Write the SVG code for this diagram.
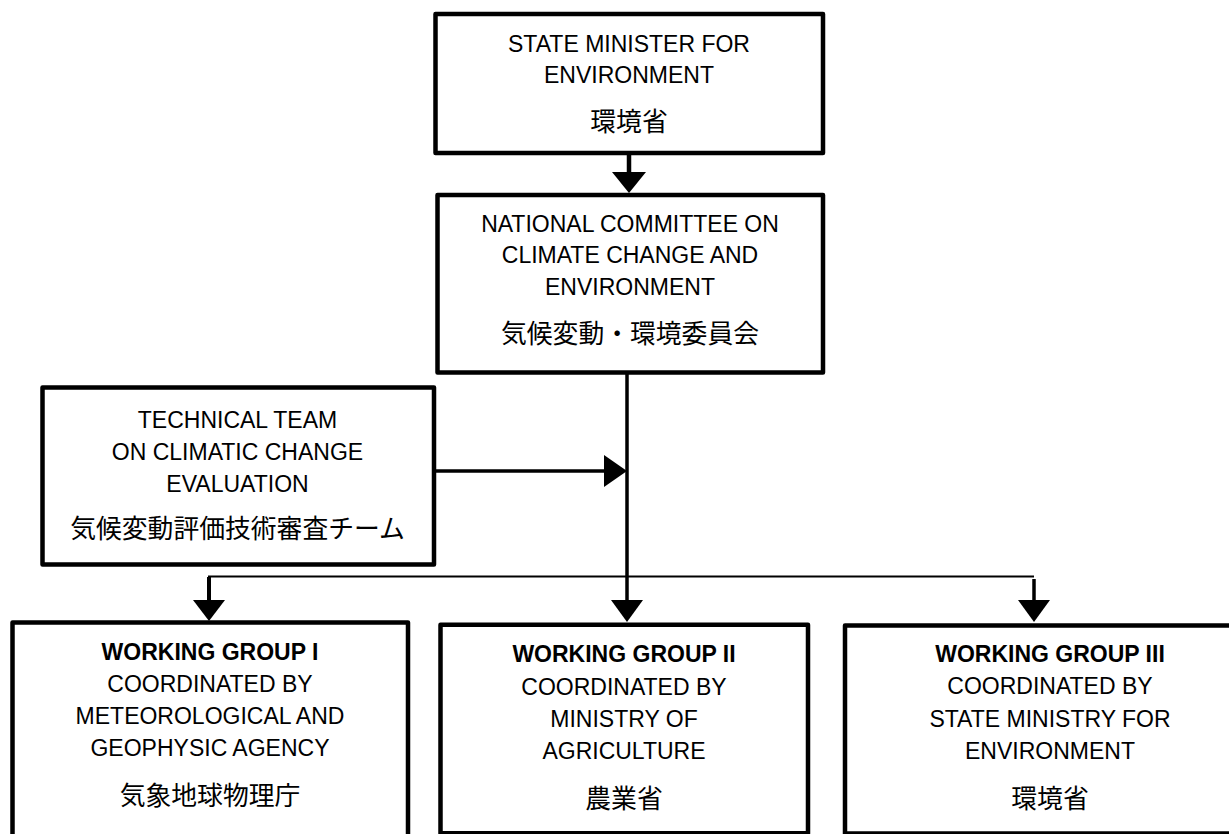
<svg xmlns="http://www.w3.org/2000/svg" width="1229" height="834" viewBox="0 0 1229 834">
<style>
.box{fill:#fff;stroke:#000;stroke-width:4.5;stroke-linejoin:round}
.t{font-family:"Liberation Sans","Noto Sans CJK JP",Arial,sans-serif;font-size:23px;fill:#000;text-anchor:middle}
.b{font-weight:bold}
.jp{font-family:"Noto Sans CJK JP","Liberation Sans",sans-serif;font-size:25.8px}
.ln{stroke:#000;stroke-width:3.5;fill:none}
.thin{stroke:#000;stroke-width:2;fill:none}
.ah{fill:#000;stroke:none}
</style>
<rect width="1229" height="834" fill="#fff"/>
<g id="connectors">
<line class="ln" x1="629" y1="153" x2="629" y2="174" style="stroke-width:4.5"/>
<polygon class="ah" points="612,172 646,172 629,193"/>
<line class="ln" x1="627" y1="372" x2="627" y2="602"/>
<polygon class="ah" points="611,600 643,600 627,622"/>
<line class="ln" x1="434" y1="471" x2="606" y2="471"/>
<polygon class="ah" points="604,455 604,487 627,471"/>
<polyline class="thin" points="209,602 209,576.5 1034,576.5"/>
<line class="ln" x1="209" y1="577" x2="209" y2="602" style="stroke-width:4"/>
<polygon class="ah" points="193,600 225,600 209,621"/>
<line class="ln" x1="1034" y1="579" x2="1034" y2="602"/>
<polygon class="ah" points="1018,600 1050,600 1034,622"/>
</g>
<g id="state-minister">
<rect class="box" x="435.5" y="14" width="387.5" height="139"/>
<text class="t" x="629" y="51.7">STATE MINISTER FOR</text>
<text class="t" x="629" y="83.3">ENVIRONMENT</text>
<text class="t jp" x="629" y="131">環境省</text>
</g>
<g id="national-committee">
<rect class="box" x="437.5" y="195" width="385.5" height="177.5"/>
<text class="t" x="630" y="231.7">NATIONAL COMMITTEE ON</text>
<text class="t" x="630" y="263.3">CLIMATE CHANGE AND</text>
<text class="t" x="630" y="295">ENVIRONMENT</text>
<text class="t jp" x="630" y="343">気候変動・環境委員会</text>
</g>
<g id="technical-team">
<rect class="box" x="42.5" y="387.5" width="391.5" height="177"/>
<text class="t" x="237.5" y="428.3">TECHNICAL TEAM</text>
<text class="t" x="237.5" y="460">ON CLIMATIC CHANGE</text>
<text class="t" x="237.5" y="491.7">EVALUATION</text>
<text class="t jp" x="237.5" y="538">気候変動評価技術審査チーム</text>
</g>
<g id="wg1">
<rect class="box" x="12.5" y="622.5" width="395.5" height="216"/>
<text class="t b" x="210" y="660">WORKING GROUP I</text>
<text class="t" x="210" y="691.7">COORDINATED BY</text>
<text class="t" x="210" y="724">METEOROLOGICAL AND</text>
<text class="t" x="210" y="756">GEOPHYSIC AGENCY</text>
<text class="t jp" x="210" y="805">気象地球物理庁</text>
</g>
<g id="wg2">
<rect class="box" x="440.5" y="624.7" width="367.5" height="208.5"/>
<text class="t b" x="624" y="662">WORKING GROUP II</text>
<text class="t" x="624" y="694.5">COORDINATED BY</text>
<text class="t" x="624" y="727">MINISTRY OF</text>
<text class="t" x="624" y="759">AGRICULTURE</text>
<text class="t jp" x="624" y="808">農業省</text>
</g>
<g id="wg3">
<rect class="box" x="845" y="625.5" width="410" height="208"/>
<text class="t b" x="1050" y="661.7">WORKING GROUP III</text>
<text class="t" x="1050" y="694">COORDINATED BY</text>
<text class="t" x="1050" y="726.7">STATE MINISTRY FOR</text>
<text class="t" x="1050" y="759">ENVIRONMENT</text>
<text class="t jp" x="1050" y="808">環境省</text>
</g>
</svg>
